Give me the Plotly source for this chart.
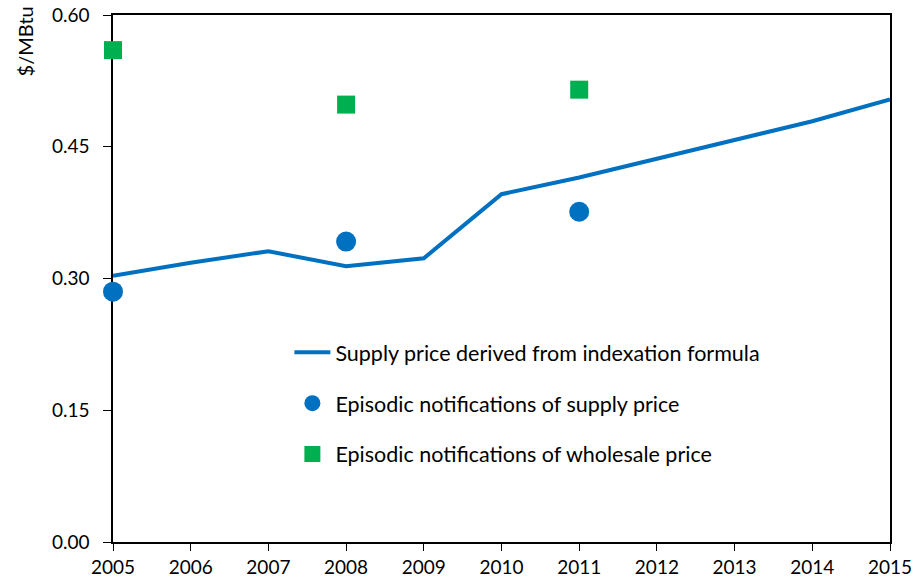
import plotly.graph_objects as go

# ---- Data ---- #
years = [2005, 2006, 2007, 2008, 2009, 2010, 2011, 2012, 2013, 2014, 2015]
formula_price = [0.303, 0.318, 0.331, 0.314, 0.323, 0.396, 0.415, 0.436, 0.457, 0.479, 0.504]

notif_years = [2005, 2008, 2011]
supply_notif = [0.285, 0.342, 0.376]
wholesale_notif = [0.560, 0.498, 0.515]

y_ticks = [0.0, 0.15, 0.30, 0.45, 0.60]

# ---- Figure ---- #
fig = go.Figure()

fig.add_trace(go.Scatter(x=years, y=formula_price, mode='lines',
                         name='Supply price derived from indexation formula',
                         line=dict(color='#0070C0', width=4),
                         legendgroup='a', cliponaxis=False))

fig.add_trace(go.Scatter(x=notif_years, y=supply_notif, mode='markers',
                         name='Episodic notifications of supply price',
                         marker=dict(color='#0070C0', size=20, symbol='circle'),
                         legendgroup='b', cliponaxis=False))

fig.add_trace(go.Scatter(x=notif_years, y=wholesale_notif, mode='markers',
                         name='Episodic notifications of wholesale price',
                         marker=dict(color='#00B050', size=18, symbol='square'),
                         legendgroup='c', cliponaxis=False))

fig.update_layout(width=915, height=583, plot_bgcolor='white', paper_bgcolor='white',
                  margin=dict(l=113, r=25, t=15, b=41),
                  font=dict(family='Lato, sans-serif', size=19, color='black'),
                  showlegend=True,
                  legend=dict(x=0.227, y=0.399, xanchor='left', yanchor='top',
                              bgcolor='rgba(0,0,0,0)', font=dict(size=21.5),
                              tracegroupgap=20, itemwidth=36))

fig.update_xaxes(range=[2005, 2015], tickvals=years, showgrid=False, zeroline=False,
                 showline=True, linecolor='black', linewidth=1.5, mirror=True,
                 ticks='outside', ticklen=7, tickcolor='black', tickfont=dict(size=19),
                 automargin=False, layer='below traces', ticklabeloverflow='allow')
fig.update_yaxes(range=[0, 0.6], tickvals=y_ticks, tickformat='.2f', showgrid=False,
                 zeroline=False, showline=True, linecolor='black', linewidth=1.5,
                 mirror=True, ticks='outside', ticklen=8, tickcolor='black',
                 tickfont=dict(size=19), automargin=False, layer='below traces',
                 ticklabeloverflow='allow', ticklabelstandoff=10)

fig.add_annotation(text='$/MBtu', xref='paper', yref='paper', x=-0.113, y=0.88,
                   xanchor='center', yanchor='bottom', textangle=-90, showarrow=False,
                   font=dict(size=20))

# drop the default page margin so the figure sits at the window's corner
fig.write_html("out.html", config={'displayModeBar': False},
               post_script="document.body.style.margin='0';")
